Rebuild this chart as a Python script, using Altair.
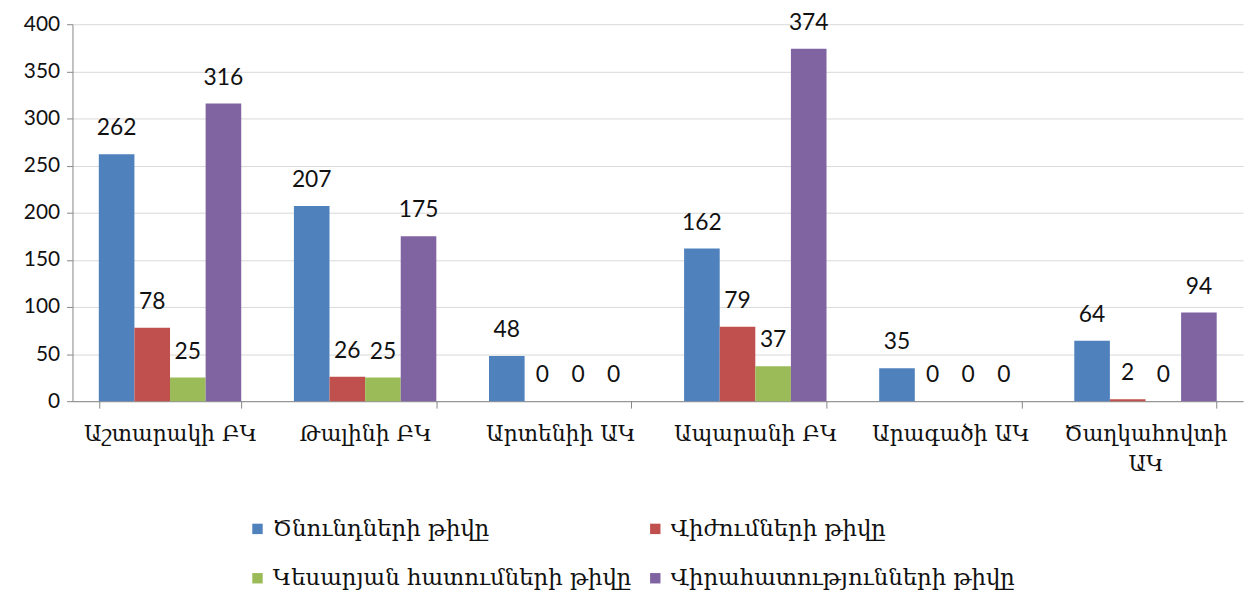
import altair as alt
import pandas as pd

categories = ["Աշտարակի ԲԿ", "Թալինի ԲԿ", "Արտենիի ԱԿ", "Ապարանի ԲԿ", "Արագածի ԱԿ", "Ծաղկահովտի ԱԿ"]
series_names = ["Ծնունդների թիվը", "Վիժումների թիվը", "Կեսարյան հատումների թիվը", "Վիրահատությունների թիվը"]
births = [262, 207, 48, 162, 35, 64]
abortions = [78, 26, 0, 79, 0, 2]
cesareans = [25, 25, 0, 37, 0, 0]
surgeries = [316, 175, 0, 374, 0, 94]
colors = ["#4F81BD", "#C0504D", "#9BBB59", "#8064A2"]
y_ticks = [0, 50, 100, 150, 200, 250, 300, 350, 400]

rows = []
for s, vals in zip(series_names, [births, abortions, cesareans, surgeries]):
    for c, v in zip(categories, vals):
        rows.append({"category": c, "series": s, "value": v})
df = pd.DataFrame(rows)

FONT = "DejaVu Serif"
NUMFONT = "Lato"

x = alt.X("category:N", sort=categories, title=None,
          scale=alt.Scale(paddingInner=0.27, paddingOuter=0.135),
          axis=alt.Axis(labelAngle=0, labelFont=FONT, labelFontSize=22, labelColor="#111",
                        labelPadding=16, labelLineHeight=30,
                        labelExpr="length(datum.label) > 12 ? split(datum.label, ' ') : datum.label",
                        tickBand="extent", tickSize=7, tickColor="#868686",
                        domainColor="#868686", grid=False, labelLimit=300))
xo = alt.XOffset("series:N", sort=series_names, scale=alt.Scale(paddingInner=0, paddingOuter=0))
y = alt.Y("value:Q", title=None,
          scale=alt.Scale(domain=[0, 400], nice=False),
          axis=alt.Axis(values=y_ticks, labelFont=NUMFONT, labelFontSize=21, labelColor="#111",
                        labelPadding=7, tickSize=6, tickColor="#868686",
                        domainColor="#868686", gridColor="#d9d9d9"))
color = alt.Color("series:N", sort=series_names,
                  scale=alt.Scale(domain=series_names, range=colors),
                  legend=alt.Legend(title=None, orient="none", legendX=175, legendY=497,
                                    columns=2, direction="horizontal",
                                    labelFont=FONT, labelFontSize=23, labelColor="#111",
                                    symbolType="square", symbolSize=110, symbolStrokeWidth=0,
                                    rowPadding=26, columnPadding=12, labelLimit=500))

bars = alt.Chart(df).mark_bar().encode(x=x, xOffset=xo, y=y, color=color)
labels = alt.Chart(df).mark_text(font=NUMFONT, fontSize=23, color="#111", baseline="middle", dy=-26).encode(
    x=x, xOffset=xo, y=y, text="value:Q")

chart = (bars + labels).properties(
    width=1180, height=380, autosize="none",
    padding={"left": 65, "top": 14, "right": 5, "bottom": 188},
).configure_view(stroke=None)

chart.save("out.html", embed_options={"renderer": "svg", "actions": False})
